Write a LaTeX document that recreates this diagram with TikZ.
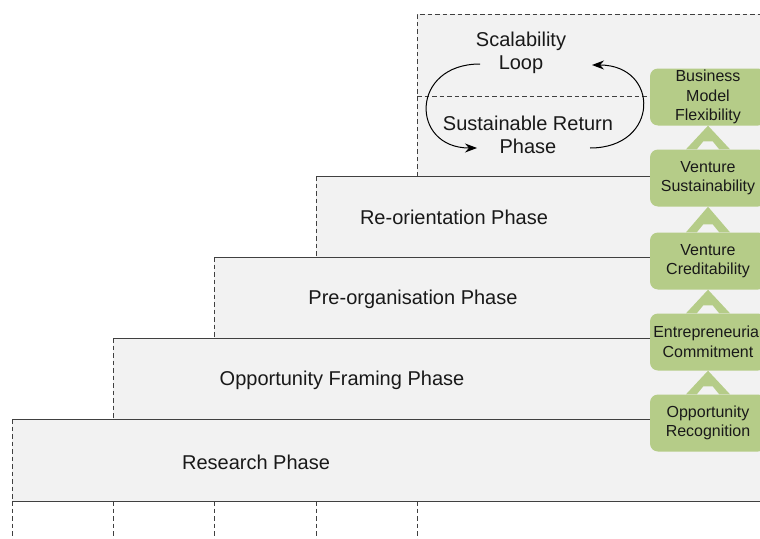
\documentclass[tikz,border=0pt]{standalone}
\usepackage{fontspec}
\setmainfont{Liberation Sans}
\usetikzlibrary{arrows.meta,calc}
\definecolor{phasegray}{RGB}{242,242,242}
\definecolor{stepgreen}{RGB}{181,204,136}
\definecolor{edgegray}{RGB}{64,64,64}

\begin{document}
\begin{tikzpicture}[x=1pt,y=-1pt]
	% Define styles for the phase texts, the milestone boxes and the lines
	\tikzset{phase/.style={font=\fontsize{20}{23}\selectfont, align=center, text=black!90},
		milestone/.style={fill=stepgreen, rounded corners=8pt, minimum width=116pt, minimum height=57pt, inner sep=0pt, align=center, font=\fontsize{16}{19.5}\selectfont, text=black!90},
		guide/.style={edgegray, line width=0.8pt, dash pattern=on 4.5pt off 3pt},
		edge/.style={edgegray, line width=1pt},
		loop/.style={-{Stealth[length=12pt,width=9pt]}, line width=1pt}}
	
	\useasboundingbox (0,0) rectangle (760,538);
	\clip (0,0) rectangle (760,538);
	
	% Draw the top box of the staircase
	\fill[phasegray] (417,14) rectangle (780,176);
	\draw[guide] (417,176) -- (417,14) -- (780,14);
	\draw[guide] (417,96) -- (660,96);
	
	% Draw the steps from the highest to the lowest
	\foreach \x/\top/\bot in {316/176/257, 214/257/338, 113/338/419, 12/419/501} {
		\fill[phasegray] (\x,\top) rectangle (780,\bot);
		\draw[edge] (\x,\top) -- (780,\top);
		\draw[guide] (\x,\top) -- (\x,\bot);
	}
	\draw[edge] (12,501) -- (780,501);
	
	% Draw the dashed guides below the lowest step
	\foreach \x in {12,113,214,316,417}
		\draw[guide] (\x,501) -- (\x,540);
	
	% Add the phase labels
	\node[phase] (scal) at (521,53) {Scalability\\Loop};
	\node[phase] (sust) at (528,135) {Sustainable Return\\Phase};
	\node[phase] (reor) at (454,217) {Re-orientation Phase};
	\node[phase] (preo) at (413,299) {Pre-organisation Phase};
	\node[phase] (oppf) at (342,380) {Opportunity Framing Phase};
	\node[phase] (rese) at (256,462) {Research Phase};
	
	% Draw the loop between the two top phases
	\coordinate (loopTL) at (480,64);
	\coordinate (loopBL) at (477,148);
	\coordinate (loopBR) at (590,148);
	\coordinate (loopTR) at (592,65);
	\draw[loop] (loopTL) .. controls (410,64) and (410,148) .. (loopBL);
	\draw[loop] (loopBR) .. controls (660,148) and (660,65) .. (loopTR);
	
	% Draw the milestone boxes
	\node[milestone] (bmf) at (708,97) {Business\\Model\\Flexibility};
	\node[milestone] (vs) at (708,178) {Venture\\Sustainability};
	\node[milestone] (vc) at (708,261) {Venture\\Creditability};
	\node[milestone] (ec) at (708,342) {Entrepreneurial\\Commitment};
	\node[milestone] (orc) at (708,423) {Opportunity\\Recognition};
	
	% Draw the hollow triangles between the milestones
	\foreach \src/\dst in {vs/bmf, vc/vs, ec/vc, orc/ec} {
		\fill[stepgreen] (\dst.south) -- ($(\src.north)+(22,0)$) -- ($(\src.north)+(-22,0)$) -- cycle;
		\fill[phasegray] ($(\src.north)+(-11,0)$) -- ($(\src.north)+(-4.5,-8)$) -- ($(\src.north)+(4.5,-8)$) -- ($(\src.north)+(11,0)$) -- cycle;
	}
\end{tikzpicture}
\end{document}
